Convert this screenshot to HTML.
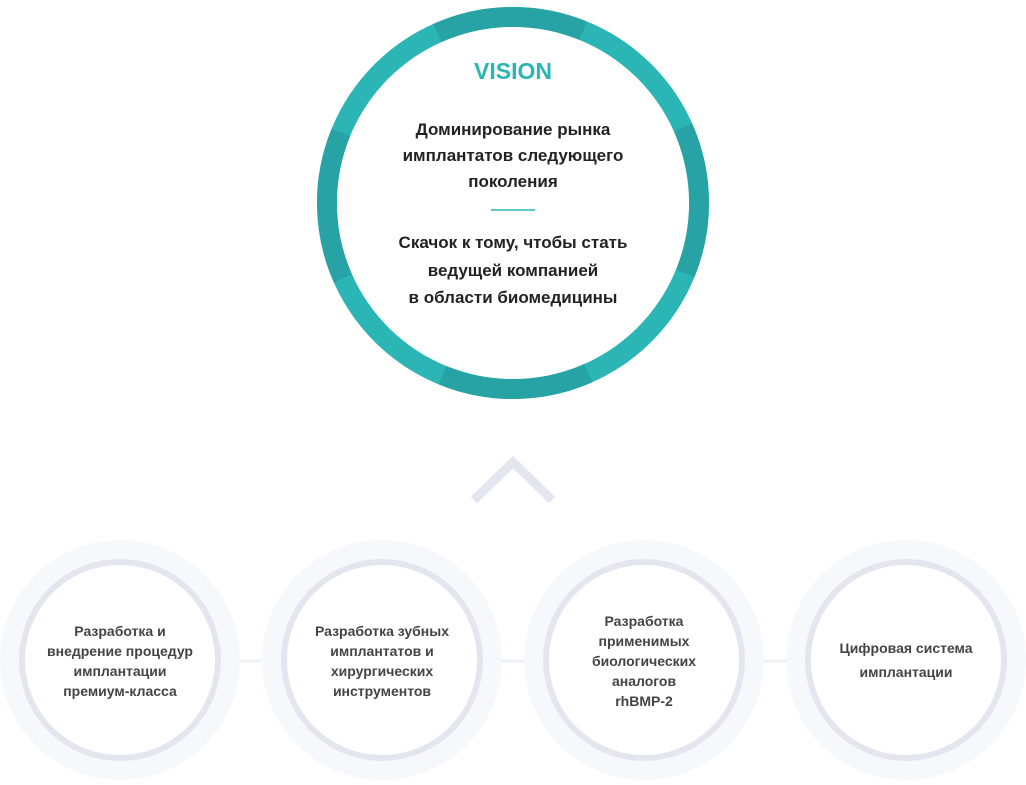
<!DOCTYPE html>
<html><head><meta charset="utf-8"><style>
body{margin:0;background:#fff;width:1026px;height:780px;overflow:hidden;font-family:"Liberation Sans",sans-serif}
</style></head><body>
<svg width="1026" height="780" viewBox="0 0 1026 780" xmlns="http://www.w3.org/2000/svg">
<line x1="120" y1="661" x2="906" y2="661" stroke="#eef0f6" stroke-width="3"/>
<g fill="#f7f8fc">
<circle cx="120" cy="660" r="120"/>
<circle cx="382" cy="660" r="120"/>
<circle cx="644" cy="660" r="120"/>
<circle cx="906" cy="660" r="120"/>
</g>
<g fill="#fff" stroke="#e3e6ef" stroke-width="6">
<circle cx="120" cy="660" r="98"/>
<circle cx="382" cy="660" r="98"/>
<circle cx="644" cy="660" r="98"/>
<circle cx="906" cy="660" r="98"/>
</g>
<polyline points="474,500 513,462 552,500" fill="none" stroke="#e4e6ef" stroke-width="9"/>
<circle cx="513" cy="203" r="186" fill="#fff" stroke="#2bb5b5" stroke-width="20"/>
<circle cx="513" cy="203" r="186" fill="none" stroke="#27a3a5" stroke-width="20" stroke-dasharray="150 142.17" transform="rotate(-114 513 203)"/>
<circle cx="513" cy="203" r="176" fill="#fff"/>
<g font-family="Liberation Sans, sans-serif" font-weight="bold" text-anchor="middle">
<text x="513" y="79" fill="#2bb5b5" font-size="23">VISION</text>
<g fill="#222" font-size="17">
<text x="513" y="135">Доминирование рынка</text>
<text x="513" y="161">имплантатов следующего</text>
<text x="513" y="187">поколения</text>
<text x="513" y="248">Скачок к тому, чтобы стать</text>
<text x="513" y="276">ведущей компанией</text>
<text x="513" y="303">в области биомедицины</text>
</g>
<line x1="491" y1="210" x2="535" y2="210" stroke="#2bb5b5" stroke-width="1.5"/>
<g fill="#444" font-size="14">
<text x="120" y="636">Разработка и</text>
<text x="120" y="656">внедрение процедур</text>
<text x="120" y="676">имплантации</text>
<text x="120" y="696">премиум-класса</text>
<text x="382" y="636">Разработка зубных</text>
<text x="382" y="656">имплантатов и</text>
<text x="382" y="676">хирургических</text>
<text x="382" y="696">инструментов</text>
<text x="644" y="626">Разработка</text>
<text x="644" y="646">применимых</text>
<text x="644" y="666">биологических</text>
<text x="644" y="686">аналогов</text>
<text x="644" y="706">rhBMP-2</text>
<text x="906" y="653">Цифровая система</text>
<text x="906" y="677">имплантации</text>
</g>
</g>
</svg>
</body></html>
